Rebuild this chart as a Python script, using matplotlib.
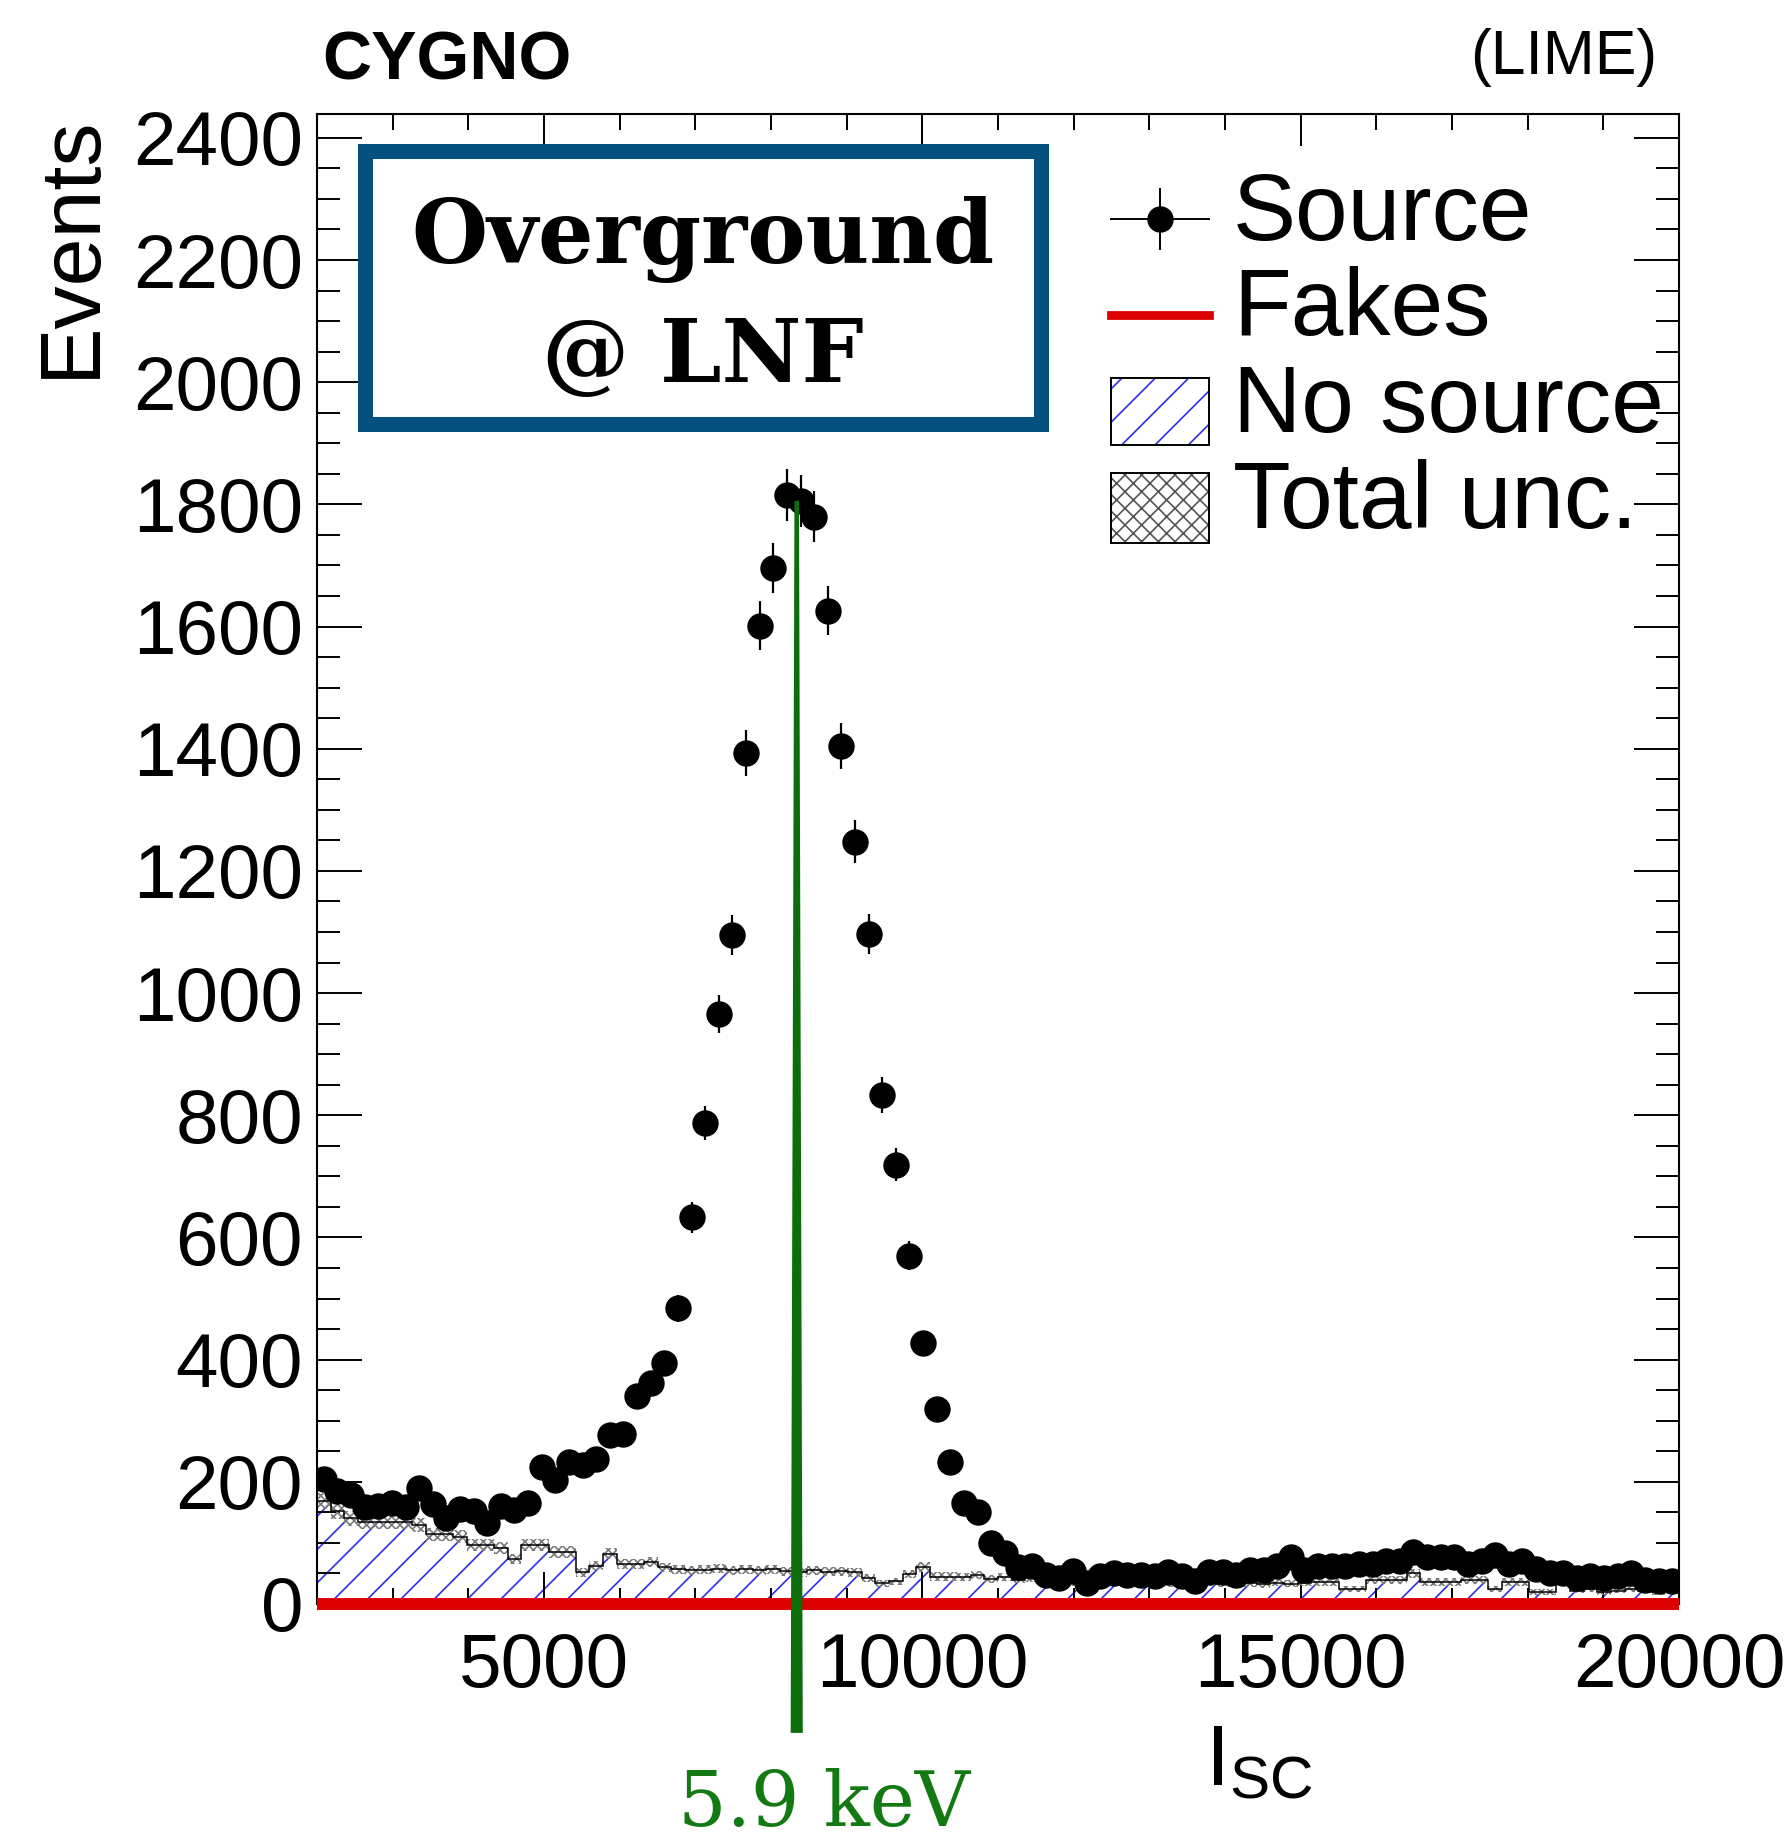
import numpy as np
import matplotlib
matplotlib.use("Agg")
import matplotlib.pyplot as plt
from matplotlib.patches import Rectangle
from matplotlib.lines import Line2D
from matplotlib.ticker import MultipleLocator

plt.rcParams['font.family'] = ['Liberation Sans', 'DejaVu Sans']
plt.rcParams['mathtext.fontset'] = 'custom'
plt.rcParams['mathtext.rm'] = 'Liberation Sans'
plt.rcParams['hatch.linewidth'] = 1.2

# ---------------- data ----------------
x_min, x_max, n_bins = 2000, 20000, 100

source = [205, 185, 178, 158, 160, 165, 158, 190, 164, 140,
          155, 152, 133, 161, 154, 165, 224, 203, 232, 228,
          238, 277, 278, 340, 361, 394, 484, 633, 787, 966,
          1095, 1393, 1601, 1696, 1816, 1805, 1780, 1626, 1405, 1248,
          1097, 833, 719, 570, 427, 320, 232, 165, 150, 100,
          83, 60, 62, 48, 42, 54, 34, 46, 50, 48,
          48, 46, 52, 46, 38, 52, 52, 48, 56, 56,
          62, 77, 56, 62, 62, 62, 65, 65, 71, 71,
          85, 77, 77, 77, 65, 71, 81, 65, 71, 58,
          50, 50, 42, 46, 42, 46, 50, 40, 38, 37]

nosource = [168, 152, 140, 134, 134, 134, 134, 129, 114, 114,
            110, 96, 96, 92, 74, 96, 96, 85, 85, 52,
            63, 82, 66, 66, 68, 60, 57, 55, 56, 58,
            55, 57, 55, 57, 54, 52, 55, 53, 54, 52,
            43, 34, 37, 49, 61, 45, 45, 44, 47, 41,
            44, 40, 42, 38, 38, 36, 36, 34, 37, 35,
            33, 36, 34, 31, 32, 35, 33, 36, 34, 32,
            35, 33, 35, 36, 36, 25, 25, 39, 39, 39,
            50, 36, 36, 36, 39, 39, 25, 36, 36, 20,
            20, 36, 22, 24, 20, 22, 25, 22, 20, 22]

fakes = [0] * n_bins

energy_line_x = 8340      # 5.9 keV marker
energy_line_top = 1806
energy_line_bottom = -211

x_major, x_minor = 5000, 1000
y_major, y_minor = 200, 50
y_top = 2439

# ---------------- figure ----------------
W, H = 1792, 1848
fig = plt.figure(figsize=(W / 100, H / 100), dpi=100)

def fx(px):
    return px / W

def fy(py):
    return 1 - py / H

ax_left, ax_right, ax_top, ax_bottom = 317, 1679, 114, 1604
ax = fig.add_axes([fx(ax_left), fy(ax_bottom), fx(ax_right - ax_left), (ax_bottom - ax_top) / H])

edges = np.linspace(x_min, x_max, n_bins + 1)
centers = 0.5 * (edges[1:] + edges[:-1])
src = np.array(source, dtype=float)
nos = np.array(nosource, dtype=float)
unc = np.sqrt(nos)

blue = '#2f2fe6'
ax.stairs(nos, edges, fill=True, facecolor='none', edgecolor=blue, hatch='/',
          linewidth=0, zorder=1)
ax.stairs(nos + unc, edges, baseline=nos - unc, fill=True, facecolor='none',
          edgecolor='#7a7a7a', hatch='xxxx', linewidth=0, zorder=2)
ax.stairs(nos, edges, baseline=None, color='black', linewidth=1.1, zorder=3)
ax.stairs(np.array(fakes, dtype=float), edges, baseline=None, color='#dd0000',
          linewidth=8.6, zorder=4, clip_on=False)
ax.errorbar(centers, src, yerr=np.sqrt(src), fmt='o', color='black', ms=18,
            elinewidth=1.6, capsize=0, zorder=5)

green_line = '#0b6e0b'
w_top, w_bot = 30, 80
ax.fill([energy_line_x - w_top, energy_line_x + w_top, energy_line_x + w_bot, energy_line_x - w_bot],
        [energy_line_top, energy_line_top, energy_line_bottom, energy_line_bottom],
        color=green_line, clip_on=False, zorder=6, linewidth=0)

ax.set_xlim(x_min, x_max)
ax.set_ylim(0, y_top)
ax.xaxis.set_major_locator(MultipleLocator(x_major))
ax.xaxis.set_minor_locator(MultipleLocator(x_minor))
ax.yaxis.set_major_locator(MultipleLocator(y_major))
ax.yaxis.set_minor_locator(MultipleLocator(y_minor))
ax.tick_params(which='both', direction='in', top=True, right=True, width=1.4,
               labelsize=55)
ax.tick_params(axis='x', which='major', length=32 * 0.72, pad=20)
ax.tick_params(axis='x', which='minor', length=16 * 0.72)
ax.tick_params(axis='y', which='major', length=45 * 0.72, pad=10)
ax.tick_params(axis='y', which='minor', length=23 * 0.72)
for s in ax.spines.values():
    s.set_linewidth(1.5)

# ---------------- texts ----------------
fig.text(fx(322), fy(80), 'CYGNO', weight='bold', size=49, ha='left', va='baseline')
fig.text(fx(1657), fy(74), '(LIME)', size=45, ha='right', va='baseline')
fig.text(fx(32), fy(114), 'Events', size=62, rotation=90, ha='left', va='top')
fig.text(fx(1205), fy(1785), r'$\mathregular{I_{SC}}$', size=62, ha='left', va='baseline')
fig.text(fx(678), fy(1826), '5.9 keV', size=55, family='DejaVu Serif',
         color='#137a13', ha='left', va='baseline')

# Overground box
box = Rectangle((fx(365), fy(424)), fx(1041 - 365), (424 - 151) / H,
                transform=fig.transFigure, facecolor='white', edgecolor='#04507f',
                linewidth=10.8, zorder=10)
fig.add_artist(box)
fig.text(fx(703), fy(263), 'Overground', family='DejaVu Serif', weight='bold',
         size=63, ha='center', va='baseline', zorder=11)
fig.text(fx(703), fy(382), '@ LNF', family='DejaVu Serif', weight='bold',
         size=63, ha='center', va='baseline', zorder=11)

# ---------------- legend ----------------
hx0, hx1 = 1111, 1209
hxc = 0.5 * (hx0 + hx1)
tx = 1233
leg_size = 68
T = fig.transFigure
# Source
fig.add_artist(Line2D([fx(hx0), fx(hx1)], [fy(219), fy(219)], color='black', lw=1.4, transform=T))
fig.add_artist(Line2D([fx(hxc), fx(hxc)], [fy(189), fy(249)], color='black', lw=1.4, transform=T))
fig.add_artist(Line2D([fx(hxc)], [fy(219)], marker='o', ms=18, color='black', transform=T))
fig.text(fx(tx), fy(240), 'Source', size=leg_size, ha='left', va='baseline')
# Fakes
fig.add_artist(Line2D([fx(hx0), fx(hx1)], [fy(315), fy(315)], color='#dd0000', lw=6.3, transform=T))
fig.text(fx(tx), fy(335), 'Fakes', size=leg_size, ha='left', va='baseline')
# No source
fig.add_artist(Rectangle((fx(hx0), fy(445)), fx(hx1 - hx0), (445 - 378) / H, transform=T,
                         facecolor='none', edgecolor=blue, hatch='/', linewidth=0))
fig.add_artist(Rectangle((fx(hx0), fy(445)), fx(hx1 - hx0), (445 - 378) / H, transform=T,
                         facecolor='none', edgecolor='black', linewidth=1.4))
fig.text(fx(tx), fy(432), 'No source', size=leg_size, ha='left', va='baseline')
# Total unc.
fig.add_artist(Rectangle((fx(hx0), fy(543)), fx(hx1 - hx0), (543 - 473) / H, transform=T,
                         facecolor='none', edgecolor='#555555', hatch='xx', linewidth=0))
fig.add_artist(Rectangle((fx(hx0), fy(543)), fx(hx1 - hx0), (543 - 473) / H, transform=T,
                         facecolor='none', edgecolor='black', linewidth=1.4))
fig.text(fx(tx), fy(528), 'Total unc.', size=leg_size, ha='left', va='baseline')

fig.savefig('out.png', dpi=100, facecolor='white')
